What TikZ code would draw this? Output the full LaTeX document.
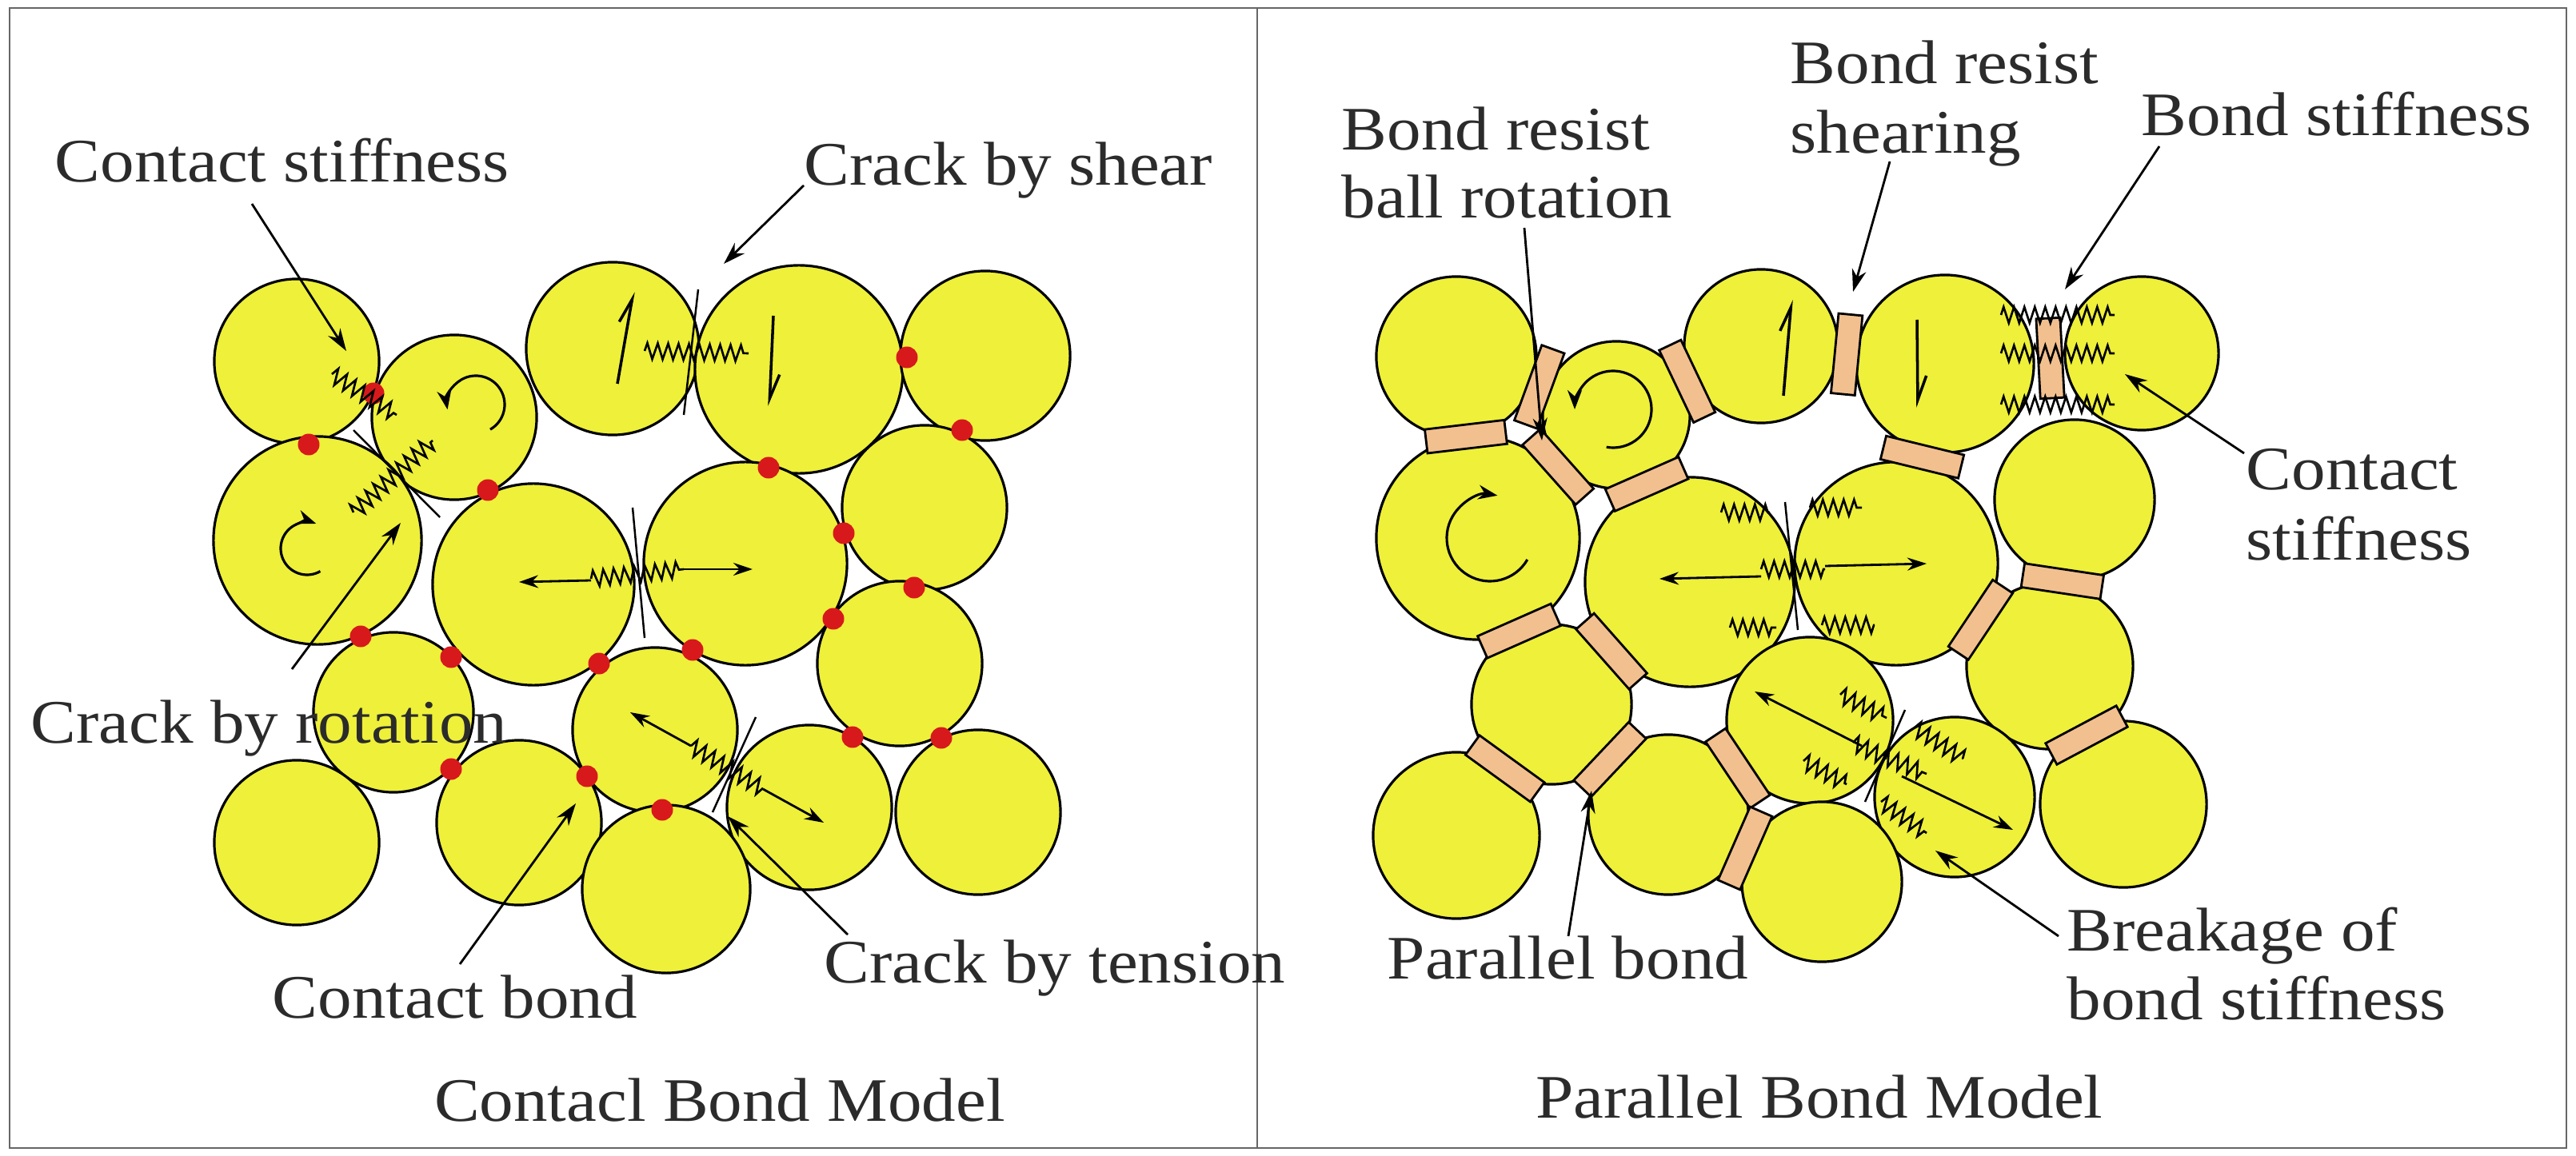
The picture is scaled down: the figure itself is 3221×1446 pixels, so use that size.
\documentclass[tikz,border=0pt]{standalone}
\usepackage{fontspec}
\setmainfont{Liberation Serif}[FakeStretch=1.1]
\usetikzlibrary{arrows.meta,decorations.pathmorphing}
\definecolor{ballY}{HTML}{EEF03A}
\definecolor{bondT}{HTML}{F2C08F}
\definecolor{dotR}{HTML}{D7191C}
\definecolor{txt}{HTML}{2B2B2B}
\begin{document}
\begin{tikzpicture}[x=0.01cm,y=-0.01cm,
  ball/.style={circle,draw=black,fill=ballY,line width=0.9pt,inner sep=0pt},
  bond/.style={rectangle,draw=black,fill=bondT,line width=0.8pt,minimum width=0.3cm,minimum height=1.0cm,inner sep=0pt},
  dot/.style={circle,fill=dotR,inner sep=0pt,minimum size=0.27cm},
  spring/.style={decorate,decoration={zigzag,segment length=0.13cm,amplitude=0.1cm},line width=0.75pt},
  crack/.style={line width=0.7pt},
  lab/.style={font=\fontsize{22}{24}\selectfont,text=txt,inner sep=0pt,anchor=base west},
  call/.style={-{Stealth[length=0.28cm,width=0.18cm]},line width=0.8pt},
  mv/.style={-{Stealth[length=0.24cm,width=0.16cm]},line width=0.8pt},
  rot/.style={-{Stealth[length=0.24cm,width=0.18cm]},line width=0.9pt},
  harp/.style={-{Straight Barb[harpoon,length=0.3cm,width=0.22cm]},line width=1pt}]
\useasboundingbox (0,0) rectangle (3221,1446);
\fill[white] (0,0) rectangle (3221,1446);
\draw[line width=0.8pt,draw=gray!80!black] (12,10) rectangle (3209,1436);
\draw[line width=0.8pt,draw=gray!80!black] (1572,10) -- (1572,1436);
\newcommand{\ball}[4]{\node[ball,minimum size=#4*0.02cm] (#1) at (#2,#3) {};}
% ---------------- left panel ----------------
\ball{A}{371}{452}{103}
\ball{B}{568}{522}{103}
\ball{C}{766}{436}{108}
\ball{D}{999}{462}{130}
\ball{E}{1232}{445}{106}
\ball{F}{397}{676}{130}
\ball{G}{667}{731}{126}
\ball{H}{932}{705}{127}
\ball{I}{1156}{635}{103}
\ball{J}{492}{891}{100}
\ball{K}{819}{913}{103}
\ball{L}{1125}{830}{103}
\ball{M}{371}{1054}{103}
\ball{N}{649}{1029}{103}
\ball{O}{1012}{1010}{103}
\ball{P}{1223}{1016}{103}
\ball{Q}{833}{1112}{105}
\foreach \x/\y in {467/492,386/556,1134/447,1203/538,961/585,610/613,1055/667,1143/735,1042/774,451/796,564/822,749/830,866/813,1066/922,1177/923,564/962,734/971,828/1013}
  \node[dot] at (\x,\y) {};
% shear crack C-D
\draw[crack] (873,362) -- (855,519);
\draw[spring] (806,439) -- (936,442);
\draw[harp] (772,480) -- (792,365);
\draw[harp] (967,395) -- (962,508);
% contact stiffness A-B and rotation crack
\draw[spring] (415,468) -- (496,519);
\draw[crack] (442,538) -- (550,647);
\draw[spring] (442,641) -- (541,551);
\draw[rot] ([shift={(60:36)}]595,506) arc[start angle=60,end angle=-190,radius=36];
\draw[rot] ([shift={(60:33)}]384,686) arc[start angle=60,end angle=290,radius=33];
% tension crack G-H
\draw[crack] (791,635) -- (806,798);
\draw[spring] (739,724) -- (855,712);
\draw[mv] (739,726) -- (649,728);
\draw[mv] (855,712) -- (941,712);
% tension crack K-O
\draw[crack] (945,897) -- (891,1016);
\draw[spring] (864,933) -- (954,987);
\draw[mv] (864,933) -- (788,891);
\draw[mv] (954,987) -- (1030,1029);
% labels left
\node[lab] (l1) at (68,228) {Contact stiffness};
\node[lab] (l2) at (1005,232) {Crack by shear};
\node[lab] (l3) at (38,929) {Crack by rotation};
\node[lab] (l4) at (340,1273) {Contact bond};
\node[lab] (l5) at (1030,1229) {Crack by tension};
\node[lab,anchor=base] (t1) at (900,1402) {Contacl Bond Model};
\coordinate (c1) at (433,439); \draw[call] (315,255) -- (c1);
\coordinate (c2) at (905,330); \draw[call] (1005,232) -- (c2);
\coordinate (c3) at (501,654); \draw[call] (365,837) -- (c3);
\coordinate (c4) at (720,1005); \draw[call] (575,1206) -- (c4);
\coordinate (c5) at (910,1021); \draw[call] (1060,1169) -- (c5);
% ---------------- right panel ----------------
\ball{a}{1821}{446}{100}
\ball{b}{2021}{519}{92}
\ball{c}{2202}{433}{96}
\ball{d}{2432}{455}{111}
\ball{e}{2678}{442}{96}
\ball{f}{1848}{673}{127}
\ball{g}{2113}{728}{131}
\ball{h}{2371}{705}{127}
\ball{i}{2594}{625}{100}
\ball{j}{1940}{881}{100}
\ball{k}{2263}{901}{104}
\ball{l}{2563}{833}{104}
\ball{m}{1821}{1045}{104}
\ball{n}{2086}{1019}{100}
\ball{o}{2444}{997}{100}
\ball{p}{2655}{1006}{104}
\ball{q}{2278}{1103}{100}
\foreach \u/\v/\w in {a/b/0.5,a/f/0.44,b/c/0.5,b/f/0.42,b/g/0.41,c/d/0.48,d/e/0.53,d/h/0.47,i/l/0.5,h/l/0.55,l/p/0.5,f/j/0.56,g/j/0.57,j/m/0.5,j/n/0.5,n/k/0.5,n/q/0.5}
  \path (\u) -- (\v) node[bond,pos=\w,sloped] {};
% rotation arrows
\draw[rot] ([shift={(100:48)}]2017,512) arc[start angle=100,end angle=-180,radius=48];
\draw[rot] ([shift={(30:54)}]1863,673) arc[start angle=30,end angle=280,radius=54];
% shear arrows
\draw[harp] (2230,495) -- (2240,375);
\draw[harp] (2397,400) -- (2398,510);
% bond stiffness d-e
\foreach \y in {394,442,506} \draw[spring] (2502,\y) -- (2644,\y);
% tension crack g-h
\draw[crack] (2232,628) -- (2248,788);
\draw[spring] (2152,641) -- (2213,641);
\draw[spring] (2263,635) -- (2328,635);
\draw[spring] (2202,712) -- (2282,712);
\draw[spring] (2163,785) -- (2221,785);
\draw[spring] (2278,782) -- (2344,782);
\draw[mv] (2202,721) -- (2075,724);
\draw[mv] (2282,708) -- (2409,705);
% tension crack k-o
\draw[crack] (2382,888) -- (2332,1003);
\draw[spring] (2301,869) -- (2359,898);
\draw[spring] (2317,929) -- (2359,949);
\draw[spring] (2255,952) -- (2309,981);
\draw[spring] (2394,910) -- (2455,949);
\draw[spring] (2355,946) -- (2409,968);
\draw[spring] (2352,1003) -- (2409,1042);
\draw[mv] (2328,933) -- (2194,865);
\draw[mv] (2378,971) -- (2517,1038);
% labels right
\node[lab] (r1a) at (1677,188) {Bond resist};
\node[lab] (r1b) at (1677,273) {ball rotation};
\node[lab] (r2a) at (2238,105) {Bond resist};
\node[lab] (r2b) at (2238,192) {shearing};
\node[lab] (r3) at (2677,170) {Bond stiffness};
\node[lab] (r4a) at (2808,613) {Contact};
\node[lab] (r4b) at (2808,700) {stiffness};
\node[lab] (r5) at (1734,1224) {Parallel bond};
\node[lab] (r6a) at (2584,1189) {Breakage of};
\node[lab] (r6b) at (2584,1275) {bond stiffness};
\node[lab,anchor=base] (t2) at (2275,1398) {Parallel Bond Model};
\coordinate (d1) at (1928,551); \draw[call] (1906,285) -- (d1);
\coordinate (d2) at (2317,365); \draw[call] (2363,202) -- (d2);
\coordinate (d3) at (2582,362); \draw[call] (2700,183) -- (d3);
\coordinate (d4) at (2657,468); \draw[call] (2806,567) -- (d4);
\coordinate (d5) at (1990,989); \draw[call] (1961,1171) -- (d5);
\coordinate (d6) at (2420,1064); \draw[call] (2574,1171) -- (d6);
\end{tikzpicture}
\end{document}
